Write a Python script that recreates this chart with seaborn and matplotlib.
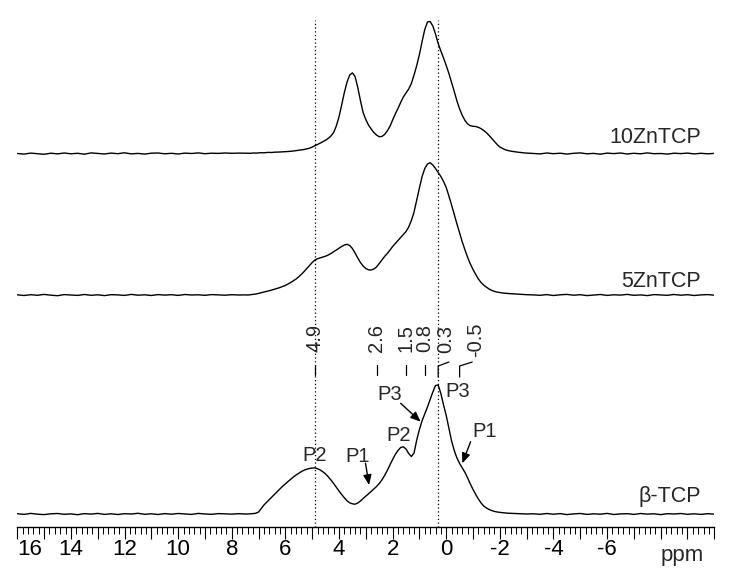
import numpy as np
import pandas as pd
import matplotlib
matplotlib.use("Agg")
import matplotlib.pyplot as plt
from matplotlib import font_manager
from matplotlib.ticker import MultipleLocator
import seaborn as sns

# --- data (ppm axis, intensity in px above each baseline) ---
samples = ["10ZnTCP", "5ZnTCP", "β-TCP"]
baselines = [360.5, 219.0, 0.0]

# peak region, 7.4 ppm down to -3.0 ppm in 0.1 ppm steps
peak_10zn = [0.3, 0.2, 0.5, 0.4, 0.6, 0.8, 0.7, 1.0, 1.1, 1.0,
             1.3, 1.4, 1.5, 1.7, 1.8, 2.0, 2.2, 2.5, 2.8, 3.2,
             3.6, 4.0, 4.6, 5.3, 6.4, 7.8, 9.0, 10.4, 11.8, 13.3,
             15.2, 17.5, 21.0, 27.5, 36.6, 48.5, 61.0, 71.5, 78.5, 80.6,
             77.0, 66.0, 53.0, 41.0, 34.0, 28.5, 24.5, 21.0, 18.5, 16.8,
             17.0, 19.0, 22.5, 27.0, 33.5, 39.5, 45.0, 51.0, 56.5, 60.5,
             64.5, 70.0, 78.5, 88.0, 99.0, 112.0, 124.0, 131.5, 132.0, 127.5,
             119.5, 110.0, 102.5, 95.5, 88.0, 80.0, 71.0, 62.0, 52.5, 44.5,
             38.0, 33.0, 29.5, 27.8, 27.2, 27.0, 26.2, 24.8, 23.0, 20.8,
             18.0, 15.0, 12.0, 9.0, 6.5, 5.0, 3.8, 3.0, 2.4, 2.0,
             1.6, 1.2, 1.0, 0.6, 0.4]
peak_5zn = [0.0, 0.3, 0.6, 1.0, 1.6, 2.2, 2.9, 3.6, 4.3, 5.0,
            5.8, 6.6, 7.5, 8.5, 9.6, 11.0, 12.5, 14.2, 16.0, 18.3,
            20.8, 23.5, 26.5, 29.5, 32.5, 35.0, 36.3, 37.2, 38.0, 38.8,
            40.0, 41.5, 43.2, 45.0, 46.8, 48.5, 50.0, 50.7, 49.5, 46.5,
            42.0, 37.0, 32.5, 29.0, 26.5, 25.2, 25.0, 26.0, 28.0, 31.5,
            35.0, 38.5, 41.5, 44.8, 48.5, 51.5, 54.5, 57.5, 60.5, 63.5,
            68.0, 74.5, 83.0, 95.0, 107.0, 118.5, 126.5, 131.0, 132.3, 130.0,
            126.5, 122.5, 118.5, 113.5, 107.5, 99.0, 90.0, 80.5, 71.0, 62.0,
            53.0, 45.0, 37.5, 31.0, 25.5, 20.5, 16.0, 12.5, 9.8, 7.8,
            6.0, 4.6, 3.6, 2.9, 2.4, 2.0, 1.7, 1.5, 1.3, 1.1,
            1.0, 0.8, 0.6, 0.5, 0.3]
peak_btcp = [0.0, 0.2, 0.4, 0.8, 2.0, 5.5, 9.0, 11.8, 14.5, 17.0,
             19.8, 22.5, 25.2, 27.8, 30.2, 32.5, 34.8, 37.0, 39.0, 40.8,
             42.5, 43.8, 44.8, 45.5, 46.0, 46.0, 45.3, 44.0, 42.2, 40.0,
             37.2, 34.0, 30.5, 26.8, 23.0, 19.5, 16.2, 13.2, 11.2, 10.2,
             9.8, 11.0, 13.0, 15.5, 18.0, 20.2, 22.5, 25.0, 27.5, 30.5,
             34.0, 38.5, 43.5, 49.0, 54.5, 59.5, 63.5, 66.5, 67.2, 65.0,
             60.5, 57.5, 61.0, 74.0, 84.5, 93.3, 100.0, 107.0, 114.5, 122.0,
             128.5, 129.0, 120.5, 109.0, 98.5, 86.0, 73.0, 63.5, 56.0, 50.5,
             46.0, 41.5, 36.0, 30.0, 24.5, 19.5, 15.0, 11.0, 8.0, 6.0,
             4.5, 3.4, 2.6, 2.0, 1.6, 1.3, 1.0, 0.8, 0.6, 0.5,
             0.4, 0.3, 0.2, 0.1, 0.0]

# baseline wiggles, 16.0 -> 7.5 ppm and -3.25 -> -10 ppm in 0.25 ppm steps
left_10zn = [0.0, -0.6, 0.4, -0.2, -0.8, 0.3, -0.4, 0.5, -0.3, 0.2, -0.7, 0.6,
             0.0, -0.5, 0.4, -0.2, 0.7, -0.4, 0.1, -0.6, 0.3, 0.5, -0.3, 0.2,
             -0.5, 0.4, 0.0, 0.6, -0.2, 0.3, 0.1, 0.5, 0.2, 0.4, 0.3]
right_10zn = [0.0, -0.4, 0.5, -0.2, 0.3, -0.6, 0.2, 0.6, -0.3, 0.1, -0.7, 0.4,
              -0.1, 0.5, -0.5, 0.2, -0.3, 0.6, -0.2, 0.0, -0.6, 0.3, -0.1, 0.4,
              -0.4, 0.2, -0.3, 0.1]
left_5zn = [0.2, -0.5, 0.3, -0.3, 0.6, -0.2, -0.7, 0.4, 0.0, -0.4, 0.5, -0.3,
            0.2, -0.6, 0.3, 0.1, -0.4, 0.6, -0.2, 0.2, -0.5, 0.4, -0.1, 0.3,
            -0.4, 0.5, 0.0, 0.2, -0.3, 0.4, 0.1, -0.2, 0.3, 0.0, 0.1]
right_5zn = [0.1, -0.3, 0.4, -0.5, 0.2, 0.6, -0.2, 0.3, -0.6, 0.0, 0.5, -0.4,
             0.2, -0.1, 0.6, -0.3, 0.1, -0.6, 0.4, 0.0, -0.3, 0.5, -0.2, 0.3,
             -0.5, 0.1, 0.4, -0.2]
left_btcp = [0.3, -0.4, 0.6, -0.2, -0.6, 0.2, 0.5, -0.3, 0.1, -0.7, 0.4, -0.1,
             0.6, -0.4, 0.2, -0.5, 0.3, 0.0, 0.7, -0.3, 0.2, -0.5, 0.4, -0.2,
             0.5, 0.1, -0.4, 0.6, 0.0, -0.3, 0.4, 0.2, -0.1, 0.3, 0.0]
right_btcp = [0.2, -0.3, 0.5, -0.2, 0.4, -0.6, 0.1, 0.5, -0.4, 0.2, -0.2, 0.6,
              -0.5, 0.1, 0.3, -0.4, 0.5, -0.1, 0.2, -0.6, 0.3, 0.0, 0.5, -0.3,
              0.2, -0.4, 0.3, -0.1]

# marked shifts and peak labels on the beta-TCP trace
marked_ppm = [4.9, 2.6, 1.5, 0.8]
hooked_ppm = [0.3, -0.5]
guide_ppm = [4.9, 0.3]
peak_labels = ["P2", "P1", "P2", "P3", "P3", "P1"]
label_ppm = [4.92, 3.29, 1.76, 2.10, -0.43, -1.44]
label_y = [53, 52, 73, 114, 117, 77]


def build(name, left, peak, right, base):
    ppm = np.concatenate([16.0 - 0.25 * np.arange(len(left)),
                          7.4 - 0.1 * np.arange(len(peak)),
                          -3.25 - 0.25 * np.arange(len(right))])
    y = np.concatenate([left, peak, right]) + base
    return pd.DataFrame({"ppm": ppm, "y": y, "sample": name})


df = pd.concat([
    build(samples[0], left_10zn, peak_10zn, right_10zn, baselines[0]),
    build(samples[1], left_5zn, peak_5zn, right_5zn, baselines[1]),
    build(samples[2], left_btcp, peak_btcp, right_btcp, baselines[2]),
], ignore_index=True)

sns.set_style("white")
installed = {f.name for f in font_manager.fontManager.ttflist}
fams = [f for f in ["Liberation Sans Narrow", "Liberation Sans"] if f in installed]
plt.rcParams["font.family"] = fams + ["DejaVu Sans"]
narrow = "Liberation Sans Narrow" in installed
big = 18.5 if narrow else 16
name_size = 17.5 if narrow else 15.5
small = 16 if narrow else 14.5

fig = plt.figure(figsize=(7.33, 5.86), dpi=100)
ax = fig.add_axes([17.3 / 733, 59 / 586, 697 / 733, 527 / 586])

sns.lineplot(data=df, x="ppm", y="y", hue="sample", palette=["black"] * 3,
             estimator=None, legend=False, lw=1.0, ax=ax)

ax.set_xlim(16, -10)
ax.set_ylim(-13, 514)

# dotted guide lines
ax.vlines(guide_ppm, -13, 494, colors="black", lw=0.9, linestyles=(0, (1, 2)))

# sample names
name_y = [371, 227.3, 12.3]
for name, yy in zip(samples, name_y):
    ax.text(-9.5, yy, name, ha="right", va="baseline", fontsize=name_size)

# shift markers
for p in marked_ppm:
    ax.plot([p, p], [139, 149], color="black", lw=0.9)
    ax.text(p, 162, f"{p:g}", rotation=90, ha="center", va="bottom", fontsize=small)
hook_end = [-0.1, -0.97]
hook_txt = [0.02, -1.1]
hook_bot = [161, 157]
for p, e, t, b in zip(hooked_ppm, hook_end, hook_txt, hook_bot):
    ax.plot([p, p, e], [137, 148, 152], color="black", lw=0.9)
    ax.text(t, b, f"{p:g}", rotation=90, ha="center", va="bottom", fontsize=small)

# peak labels
for lab, px, py in zip(peak_labels, label_ppm, label_y):
    ax.text(px, py, lab, ha="center", va="baseline", fontsize=small)
arrow_kw = dict(arrowstyle="-|>,head_length=0.6,head_width=0.25", color="black",
                lw=1.0, shrinkA=0, shrinkB=0)
ax.annotate("", xy=(2.88, 29), xytext=(3.01, 50.7), arrowprops=arrow_kw)
ax.annotate("", xy=(0.955, 92.3), xytext=(1.70, 110.7), arrowprops=arrow_kw)
ax.annotate("", xy=(-0.60, 50.7), xytext=(-0.91, 72.3), arrowprops=arrow_kw)

# axis styling
for side in ["left", "right", "top"]:
    ax.spines[side].set_visible(False)
ax.spines["bottom"].set_linewidth(1.0)
ax.spines["bottom"].set_color("black")
major = list(range(16, -11, -1))
ax.set_xticks(major)
ax.set_xticklabels([str(v) if (v % 2 == 0 and v >= -6) else "" for v in major])
ax.xaxis.set_minor_locator(MultipleLocator(0.2))
ax.tick_params(axis="x", which="major", direction="out", length=8.4, width=0.8,
               pad=0.5, labelsize=big, colors="black", bottom=True)
ax.tick_params(axis="x", which="minor", direction="out", length=4.8, width=0.7,
               bottom=True, colors="black")
ax.tick_params(axis="y", left=False, labelleft=False)
ax.xaxis.get_majorticklabels()[0].set_horizontalalignment("left")
ax.set_xlabel("")
ax.set_ylabel("")
ax.text(-8.8, -47, "ppm", ha="center", va="baseline", fontsize=big, clip_on=False)

fig.savefig("out.png", dpi=100)
